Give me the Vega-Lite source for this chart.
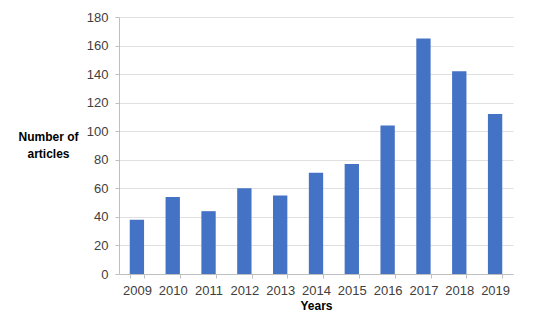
{
  "$schema": "https://vega.github.io/schema/vega-lite/v6.json",
  "autosize": "none",
  "width": 394,
  "height": 257,
  "padding": {"left": 119, "top": 17, "right": 37, "bottom": 45},
  "background": "white",
  "data": {
    "values": [
      {"year": "2009", "articles": 38},
      {"year": "2010", "articles": 54},
      {"year": "2011", "articles": 44},
      {"year": "2012", "articles": 60},
      {"year": "2013", "articles": 55},
      {"year": "2014", "articles": 71},
      {"year": "2015", "articles": 77},
      {"year": "2016", "articles": 104},
      {"year": "2017", "articles": 165},
      {"year": "2018", "articles": 142},
      {"year": "2019", "articles": 112}
    ]
  },
  "mark": {"type": "bar", "color": "#4472C4"},
  "encoding": {
    "x": {
      "field": "year",
      "type": "ordinal",
      "scale": {"paddingInner": 0.6, "paddingOuter": 0.3},
      "axis": {
        "title": "Years",
        "labelAngle": 0,
        "tickBand": "extent",
        "tickSize": 4,
        "tickColor": "#bfbfbf",
        "domainColor": "#bfbfbf",
        "labelFont": "Liberation Sans",
        "labelFontSize": 13,
        "labelColor": "#404040",
        "labelPadding": 6,
        "titleFont": "Liberation Sans",
        "titleFontSize": 12,
        "titleFontWeight": "bold",
        "titleColor": "#000000",
        "titlePadding": 3
      }
    },
    "y": {
      "field": "articles",
      "type": "quantitative",
      "scale": {"domain": [0, 180]},
      "axis": {
        "title": ["Number of", "articles"],
        "titleAngle": 0,
        "titleAlign": "center",
        "titleBaseline": "top",
        "titleX": -71,
        "titleY": 114,
        "titleLineHeight": 17,
        "titleFont": "Liberation Sans",
        "titleFontSize": 12,
        "titleFontWeight": "bold",
        "titleColor": "#000000",
        "values": [0, 20, 40, 60, 80, 100, 120, 140, 160, 180],
        "tickSize": 4,
        "tickColor": "#bfbfbf",
        "domainColor": "#bfbfbf",
        "gridColor": "#e0e0e0",
        "labelFont": "Liberation Sans",
        "labelFontSize": 13,
        "labelColor": "#404040",
        "labelPadding": 7
      }
    }
  },
  "config": {"view": {"stroke": null}}
}
